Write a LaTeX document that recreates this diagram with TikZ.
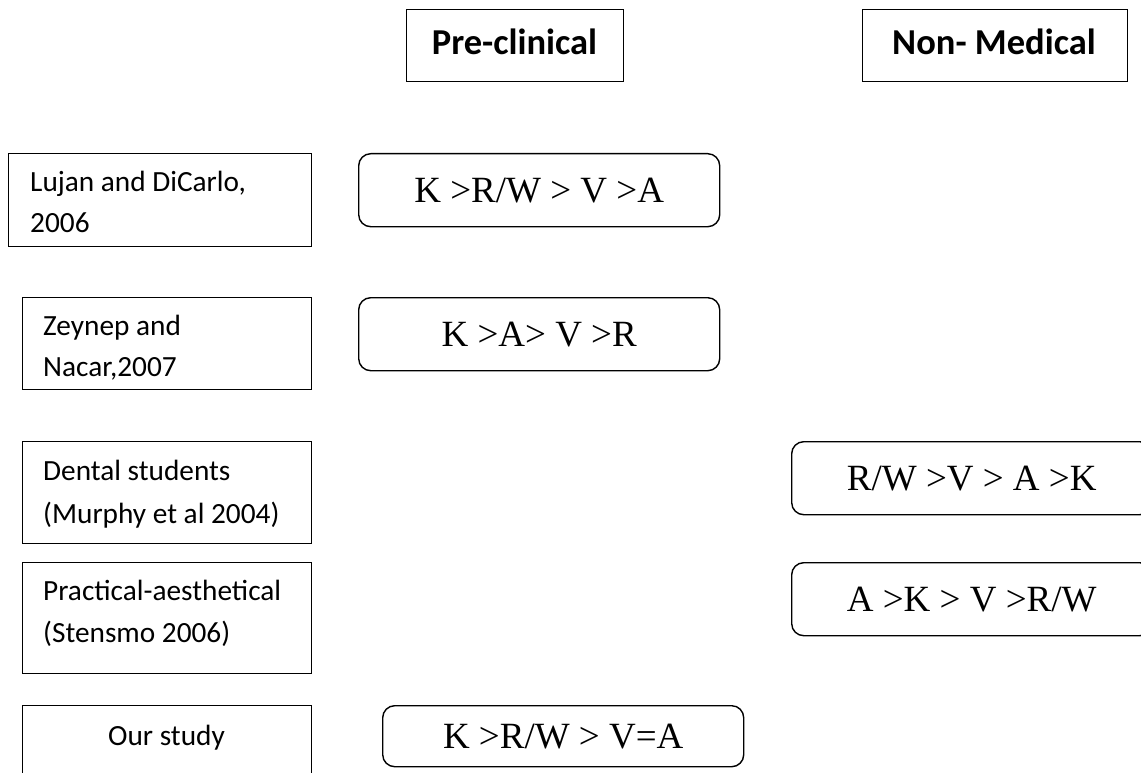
\documentclass[tikz,border=0pt]{standalone}
\usepackage{fontspec}
\setmainfont{Carlito}
\newfontfamily\timesf{Liberation Serif}
\begin{document}
\begin{tikzpicture}[x=1pt,y=1pt,
  sqbox/.style={draw=black,line width=1.4pt,rectangle,inner sep=0pt,anchor=north west},
  rbox/.style={draw=black,line width=1.4pt,rectangle,rounded corners=12pt,inner sep=0pt,anchor=north west},
  head/.style={font=\fontsize{36.5}{40}\selectfont\bfseries,anchor=base,inner sep=0pt},
  lbl/.style={font=\fontsize{29.3}{32}\selectfont,anchor=base west,inner sep=0pt},
  ord/.style={font=\timesf\fontsize{37}{40}\selectfont,anchor=center,inner sep=0pt}]
\useasboundingbox (0,0) rectangle (1141,-773);
% headers
\node[sqbox,minimum width=217,minimum height=72] (pre) at (406,-9) {};
\node[head] (pret) at (514.5,-55) {Pre-clinical};
\node[sqbox,minimum width=265,minimum height=72] (non) at (862,-9) {};
\node[head] (nont) at (994,-55) {Non- Medical};
% left boxes
\node[sqbox,minimum width=303,minimum height=93] (b1) at (8,-153) {};
\node[lbl] (b1a) at (30,-192) {Lujan and DiCarlo,};
\node[lbl] (b1b) at (30,-233) {2006};
\node[sqbox,minimum width=289,minimum height=92] (b2) at (22,-297) {};
\node[lbl] (b2a) at (43,-335) {Zeynep and};
\node[lbl] (b2b) at (43,-376) {Nacar,2007};
\node[sqbox,minimum width=289,minimum height=102] (b3) at (22,-441) {};
\node[lbl] (b3a) at (43,-480) {Dental students};
\node[lbl] (b3b) at (43,-523) {(Murphy et al 2004)};
\node[sqbox,minimum width=289,minimum height=111] (b4) at (22,-562) {};
\node[lbl] (b4a) at (43,-600) {Practical-aesthetical};
\node[lbl] (b4b) at (43,-642) {(Stensmo 2006)};
\node[sqbox,minimum width=289,minimum height=100] (b5) at (22,-705) {};
\node[lbl,anchor=base] (b5a) at (166.5,-745) {Our study};
% order boxes
\node[rbox,minimum width=361,minimum height=73] (r1) at (358,-153) {};
\node[ord] (r1t) at (r1.center) {K >R/W > V >A};
\node[rbox,minimum width=361,minimum height=73] (r2) at (358,-297) {};
\node[ord] (r2t) at (r2.center) {K >A> V >R};
\node[rbox,minimum width=360,minimum height=73] (r3) at (791,-441) {};
\node[ord] (r3t) at (r3.center) {R/W >V > A >K};
\node[rbox,minimum width=360,minimum height=73] (r4) at (791,-562) {};
\node[ord] (r4t) at (r4.center) {A >K > V >R/W};
\node[rbox,minimum width=361,minimum height=61] (r5) at (382,-705) {};
\node[ord] (r5t) at (r5.center) {K >R/W > V=A};
\end{tikzpicture}
\end{document}
